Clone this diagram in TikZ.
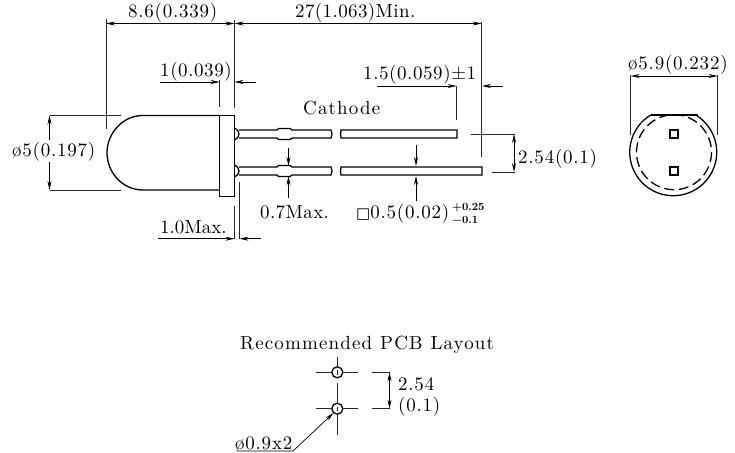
\documentclass[tikz,border=0pt]{standalone}
\usepackage{fontspec}
\setmainfont[Extension=.otf,BoldFont=lmroman10-bold]{lmroman10-regular}
\newfontfamily\symfont{DejaVu Sans}
\usetikzlibrary{arrows.meta}
\newcommand{\ls}[2]{{\addfontfeatures{LetterSpace=#1}#2}}
\tikzset{
  x=1pt,y=-1pt,
  thick line/.style={line width=1.3pt,line join=miter},
  thin line/.style={line width=0.7pt},
  ext/.style={line width=0.7pt,draw=black!85},
  dimtip/.style={-{Stealth[length=9pt,width=4pt]}},
  dimboth/.style={{Stealth[length=9pt,width=4pt]}-{Stealth[length=9pt,width=4pt]}},
  lab/.style={inner sep=0pt,font=\fontsize{19}{20}\selectfont,anchor=base west},
}
\begin{document}
\begin{tikzpicture}
\useasboundingbox (0,0) rectangle (735,452);
\fill[white] (0,0) rectangle (735,452);
% body
\draw[thick line] (219.5,115.5) -- (143,115.5) .. controls (122,115.5) and (107,134) .. (107,152.7) .. controls (107,172) and (122,190) .. (143,190) -- (219.5,190);
\draw[thick line] (219.5,115.5) rectangle (234.5,196.5);
% bumps
\draw[thick line] (234.5,128) .. controls (238,130) and (239,132) .. (239,134) .. controls (239,136) and (238,138) .. (234.5,140);
\draw[thick line] (234.5,165) .. controls (238,167) and (239,169) .. (239,171) .. controls (239,173) and (238,175) .. (234.5,177);
% leads
\foreach \yy in {134,171}{
  \draw[thick line] (239,\yy-4) -- (277,\yy-4) -- (278.5,\yy-5.5) -- (290,\yy-5.5) -- (292,\yy-4) -- (331,\yy-4) -- (332,\yy) -- (331,\yy+4) -- (292,\yy+4) -- (290,\yy+5.5) -- (278.5,\yy+5.5) -- (277,\yy+4) -- (239,\yy+4);
}
\draw[thick line] (341,130) -- (457,130) -- (457,138) -- (341,138) -- (340.5,134) -- cycle;
\draw[thick line] (341,167) -- (482,167) -- (482,175) -- (341,175) -- (340.5,171) -- cycle;
% 8.6 and 27
\draw[ext] (106,19) -- (106,129);
\draw[ext] (234.5,20) -- (234.5,108);
\draw[ext] (481.7,22) -- (481.7,157);
\draw[thin line,dimboth] (106,23.5) -- (234.5,23.5);
\draw[thin line,dimboth] (234.5,23.5) -- (481.7,23.5);
\node[lab] (a) at (128,18) {\ls{4}{8.6(0.339)}};
\node[lab] (b) at (295,18) {\ls{2}{27(1.063)Min.}};
% 1(0.039)
\draw[ext] (219.5,80) -- (219.5,107);
\draw[thin line,dimtip] (160,82) -- (219.5,82);
\draw[thin line,dimtip] (256,82) -- (234.5,82);
\node[lab] (c) at (160,76) {\ls{3}{1(0.039)}};
% 1.0Max
\draw[ext] (234.5,206) -- (234.5,239);
\draw[ext] (239.5,182) -- (239.5,239);
\draw[thin line,dimtip] (158,238.7) -- (234.5,238.7);
\draw[thin line,dimtip] (261,238.7) -- (239.5,238.7);
\node[lab] (d) at (160,233) {1.0Max.};
% dia 5
\draw[ext] (49.5,115.5) -- (120.5,115.5);
\draw[ext] (49.5,190) -- (120.5,190);
\draw[thin line,dimtip] (49.5,140) -- (49.5,115.5);
\draw[thin line,dimtip] (49.5,162) -- (49.5,190);
\node[lab] (e) at (12,156) {\ls{4}{ø5(0.197)}};
% 0.7Max
\draw[thin line,dimtip] (288.5,148) -- (288.5,166);
\draw[thin line,dimtip] (288.5,198) -- (288.5,176);
\node[lab] (f) at (260,218) {\ls{2}{0.7Max.}};
% 1.5
\draw[ext] (456.7,86) -- (456.7,120);
\draw[thin line,dimtip] (377,86) -- (456.7,86);
\draw[thin line,dimtip] (503,86) -- (482,86);
\node[lab] (g) at (363,79) {\ls{3}{1.5(0.059)±1}};
% Cathode
\node[lab] (h) at (303,114) {\ls{6}{Cathode}};
% 2.54
\draw[ext] (471,134) -- (515,134);
\draw[ext] (492,172) -- (515,172);
\draw[thin line,dimboth] (514,134) -- (514,172);
\node[lab] (i) at (518,163) {\ls{4}{2.54(0.1)}};
% 0.5
\draw[thin line,dimtip] (416,145) -- (416,166);
\draw[thin line,dimtip] (416,201) -- (416,176);
\node[lab] (j) at (356,218) {{\symfont\fontsize{15}{16}\selectfont □}\ls{4}{0.5(0.02)}};
\node[inner sep=0pt,anchor=north west,align=left,font=\fontsize{11}{13}\selectfont\bfseries] (k) at (452,203) {+0.25\\−0.1};
% right view
\draw[thick line] (650.7,115) -- (698,115);
\draw[thick line] (650.7,115) arc[start angle=-121.2,end angle=-418.8,radius=43.5];
\draw[thick line,dash pattern=on 10pt off 4.7pt] (674,152.2) circle[radius=37.5];
\draw[thick line] (670,130) rectangle (678,138);
\draw[thick line] (670,167) rectangle (678,175);
\draw[ext] (630.7,75) -- (630.7,135);
\draw[ext] (717.7,75) -- (717.7,135);
\draw[thin line,dimboth] (630.7,76) -- (717.7,76);
\node[lab] (m) at (628,70) {\ls{4}{ø5.9(0.232)}};
% PCB
\node[lab] (n) at (240,349) {\ls{6}{Recommended}\hspace{8pt}\ls{6}{PCB}\hspace{8pt}\ls{6}{Layout}};
\node[circle,draw,line width=1.3pt,minimum size=11pt,inner sep=0pt] (h1) at (337.3,372.3) {};
\node[circle,draw,line width=1.3pt,minimum size=11pt,inner sep=0pt] (h2) at (337.3,408.7) {};
\draw[ext] (316,372.3) -- (h1.west) (h1.east) -- (358,372.3);
\draw[ext] (316,408.7) -- (h2.west) (h2.east) -- (358,408.7);
\draw[ext] (337.3,357) -- (h1.north) (337.3,370) -- (337.3,374.5);
\draw[ext] (337.3,383) -- (337.3,403);
\draw[ext] (337.3,406.5) -- (337.3,411) (h2.south) -- (337.3,435);
\draw[ext] (372,372.3) -- (390,372.3);
\draw[ext] (372,408.7) -- (390,408.7);
\draw[thin line,dimboth] (389.5,372.3) -- (389.5,408.7);
\node[lab] (o) at (398,390) {\ls{4}{2.54}};
\node[lab] (p) at (398,411) {\ls{4}{(0.1)}};
\node[lab] (q) at (235,449) {\ls{4}{ø0.9x2}};
\draw[thin line,dimtip] (237,451) -- (293,451) -- (333.5,413);
\end{tikzpicture}
\end{document}
